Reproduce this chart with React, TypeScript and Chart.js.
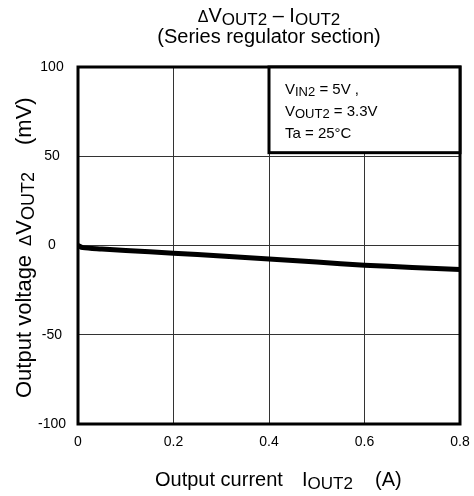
import React, { useEffect, useRef } from "react";
import { Chart, registerables } from "chart.js";

Chart.register(...registerables);

const currents = [0, 0.01, 0.05, 0.1, 0.2, 0.3, 0.4, 0.5, 0.6, 0.7, 0.8];
const deltaV = [0, -1.2, -2.0, -2.8, -4.3, -5.9, -7.6, -9.3, -11.0, -12.3, -13.4];
const xTicks = [0, 0.2, 0.4, 0.6, 0.8];
const yTicks = [-100, -50, 0, 50, 100];
const boxRange = { x0: 0.4, x1: 0.8, y0: 52, y1: 100 };

const FONT = "'Liberation Sans', Arial, sans-serif";

type Seg = { t: string; s: number; dy?: number };

function drawRich(ctx: CanvasRenderingContext2D, segs: Seg[], x: number, y: number, align: "center" | "left") {
  ctx.save();
  ctx.textBaseline = "alphabetic";
  ctx.textAlign = "left";
  ctx.fillStyle = "#000";
  let total = 0;
  const widths = segs.map((g) => {
    ctx.font = `${g.s}px ${FONT}`;
    const w = ctx.measureText(g.t).width;
    total += w;
    return w;
  });
  let cx = align === "center" ? x - total / 2 : x;
  segs.forEach((g, i) => {
    ctx.font = `${g.s}px ${FONT}`;
    ctx.fillText(g.t, cx, y + (g.dy || 0));
    cx += widths[i];
  });
  ctx.restore();
}

const decorPlugin = {
  id: "decor",
  afterDraw(chart: any) {
    const ctx: CanvasRenderingContext2D = chart.ctx;
    const { left, right, top, bottom } = chart.chartArea;
    const xs = chart.scales.x;
    const ys = chart.scales.y;
    // frame
    ctx.save();
    ctx.strokeStyle = "#000";
    ctx.lineWidth = 3;
    ctx.strokeRect(left, top, right - left, bottom - top);
    // condition box
    const bx0 = xs.getPixelForValue(boxRange.x0);
    const bx1 = xs.getPixelForValue(boxRange.x1);
    const by0 = ys.getPixelForValue(boxRange.y1);
    const by1 = ys.getPixelForValue(boxRange.y0);
    ctx.fillStyle = "#fff";
    ctx.fillRect(bx0, by0, bx1 - bx0, by1 - by0);
    ctx.strokeRect(bx0, by0, bx1 - bx0, by1 - by0);
    ctx.restore();
    const tx = bx0 + 16;
    drawRich(ctx, [{ t: "V", s: 15 }, { t: "IN2", s: 13, dy: 2 }, { t: " = 5V ,", s: 15 }], tx, by0 + 27, "left");
    drawRich(ctx, [{ t: "V", s: 15 }, { t: "OUT2", s: 13, dy: 2 }, { t: " = 3.3V", s: 15 }], tx, by0 + 49, "left");
    drawRich(ctx, [{ t: "Ta = 25°C", s: 15 }], tx, by0 + 71, "left");

    // title
    drawRich(
      ctx,
      [
        { t: "Δ", s: 16 },
        { t: "V", s: 20 },
        { t: "OUT2", s: 17, dy: 3 },
        { t: " – ", s: 20 },
        { t: "I", s: 20 },
        { t: "OUT2", s: 17, dy: 3 },
      ],
      269,
      22,
      "center"
    );
    drawRich(ctx, [{ t: "(Series regulator section)", s: 20 }], 269, 43, "center");

    // x label
    drawRich(ctx, [{ t: "Output current", s: 20 }], 155, 486, "left");
    drawRich(ctx, [{ t: "I", s: 20 }, { t: "OUT2", s: 17, dy: 3 }], 302, 486, "left");
    drawRich(ctx, [{ t: "(A)", s: 20 }], 375, 486, "left");

    // y label
    ctx.save();
    ctx.translate(31, 398);
    ctx.rotate(-Math.PI / 2);
    drawRich(ctx, [{ t: "Output voltage", s: 22 }], 0, 0, "left");
    drawRich(
      ctx,
      [
        { t: "Δ", s: 17 },
        { t: "V", s: 22 },
        { t: "OUT2", s: 18, dy: 3 },
      ],
      152,
      0,
      "left"
    );
    drawRich(ctx, [{ t: "(mV)", s: 22 }], 253, 0, "left");
    ctx.restore();
  },
};

export default function App() {
  const ref = useRef<HTMLCanvasElement | null>(null);
  useEffect(() => {
    document.body.style.margin = "0";
    const canvas = ref.current!;
    const chart = new Chart(canvas, {
      type: "line",
      data: {
        datasets: [
          {
            data: currents.map((c, i) => ({ x: c, y: deltaV[i] })),
            borderColor: "#000",
            borderWidth: 5,
            pointRadius: 0,
            tension: 0.3,
            fill: false,
          },
        ],
      },
      options: {
        responsive: false,
        animation: false,
        layout: { padding: { top: 67, right: 14, left: 0, bottom: 0 } },
        plugins: { legend: { display: false }, tooltip: { enabled: false }, title: { display: false } },
        scales: {
          x: {
            type: "linear",
            min: 0,
            max: 0.8,
            afterFit: (s: any) => {
              s.height = 72;
              s.paddingLeft = 0;
              s.paddingRight = 0;
            },
            afterBuildTicks: (s: any) => {
              s.ticks = xTicks.map((v) => ({ value: v }));
            },
            ticks: {
              color: "#000",
              font: { size: 14, family: FONT },
              padding: 10,
              maxRotation: 0,
              callback: (v: any) => String(v),
            },
            grid: { color: "#333", lineWidth: 1, drawTicks: false },
            border: { display: false },
          },
          y: {
            type: "linear",
            min: -100,
            max: 100,
            afterFit: (s: any) => {
              s.width = 78;
              s.paddingTop = 0;
              s.paddingBottom = 0;
            },
            afterBuildTicks: (s: any) => {
              s.ticks = yTicks.map((v) => ({ value: v }));
            },
            ticks: {
              color: "#000",
              font: { size: 14, family: FONT },
              padding: 12,
              crossAlign: "center",
              callback: (v: any) => String(v),
            },
            grid: { color: "#333", lineWidth: 1, drawTicks: false },
            border: { display: false },
          },
        },
      },
      plugins: [decorPlugin],
    });
    return () => chart.destroy();
  }, []);
  return <canvas ref={ref} width={474} height={496} style={{ display: "block" }} />;
}
